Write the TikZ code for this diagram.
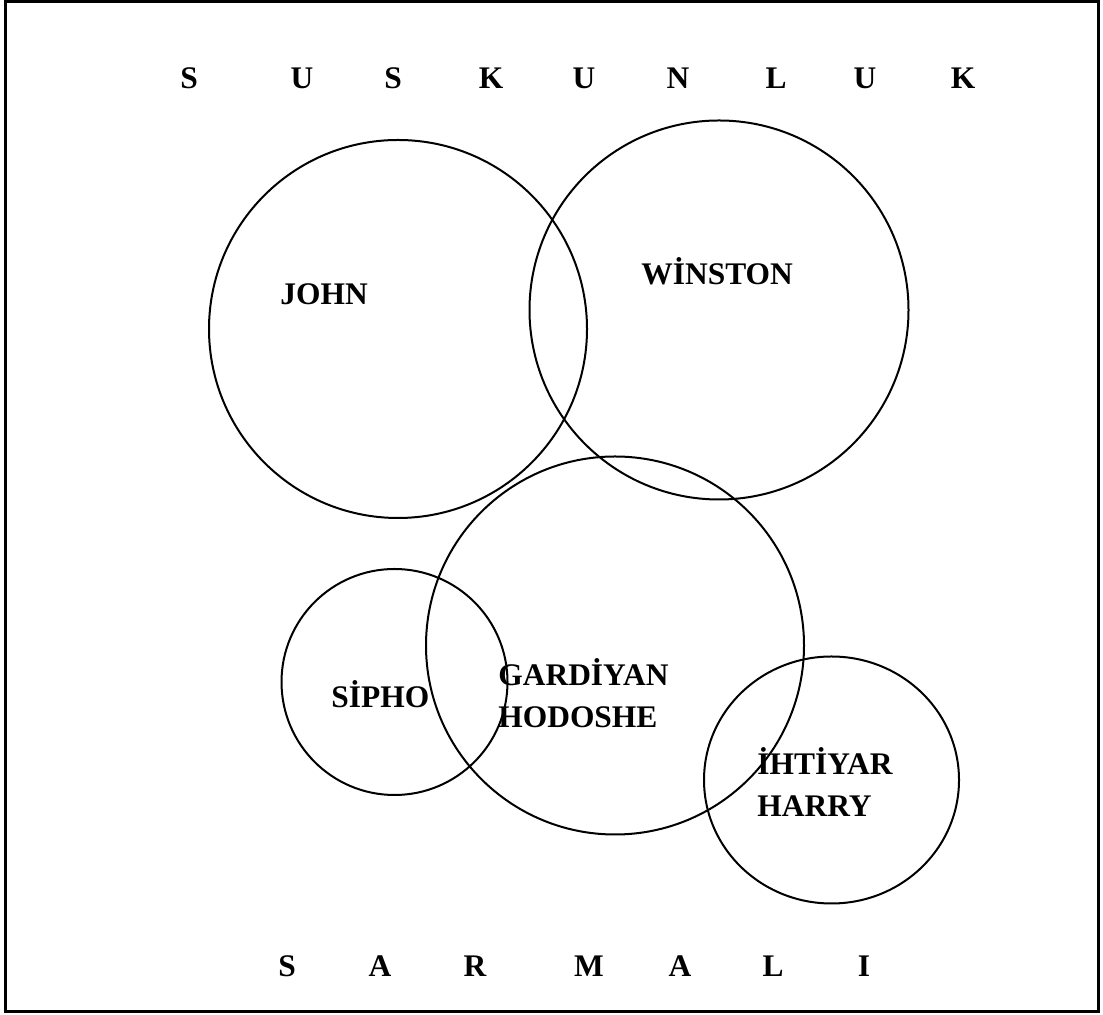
\documentclass[tikz,border=0pt]{standalone}
\usepackage{fontspec}
\setmainfont{Liberation Serif}
\usetikzlibrary{positioning}

\begin{document}
\begin{tikzpicture}[
    lbl/.style={font=\bfseries\fontsize{17.9}{23.9}\selectfont, inner sep=0pt},
    ring/.style={draw=black, line width=0.04cm}]
        \useasboundingbox (0,0) rectangle (22.06,20.30);
        \draw[line width=0.06cm] (0.10,0.06) rectangle (21.96,20.26);
        % title letters
        \foreach \x/\c [count=\i] in {3.78/S,6.04/U,7.86/S,9.82/K,11.68/U,13.56/N,15.52/L,17.30/U,19.26/K}
          \node[lbl, anchor=base] (top\i) at (\x,18.52) {\c};
        \foreach \x/\c [count=\i] in {5.74/S,7.60/A,9.50/R,11.78/M,13.60/A,15.46/L,17.28/I}
          \node[lbl, anchor=base] (bot\i) at (\x,0.76) {\c};
        % circles
        \draw[ring] (7.96,13.72) circle (3.78);
        \draw[ring] (14.38,14.10) circle (3.79);
        \draw[ring] (12.30,7.39) circle (3.78);
        \draw[ring] (7.89,6.66) circle (2.26);
        \draw[ring] (16.63,4.70) ellipse (2.55 and 2.47);
        % names (two-line ones sit on their last baseline)
        \node[lbl, anchor=base west] (john) at (5.60,14.20) {JOHN};
        \node[lbl, anchor=base west] (winston) at (12.82,14.60) {WİNSTON};
        \node[lbl, anchor=base west] (sipho) at (6.62,6.14) {SİPHO};
        \node[lbl, anchor=base west, align=left] (gardiyan) at (9.96,5.74) {GARDİYAN\\HODOSHE};
        \node[lbl, anchor=base west, align=left] (ihtiyar) at (15.14,3.96) {İHTİYAR\\HARRY};
      \end{tikzpicture}
\end{document}
